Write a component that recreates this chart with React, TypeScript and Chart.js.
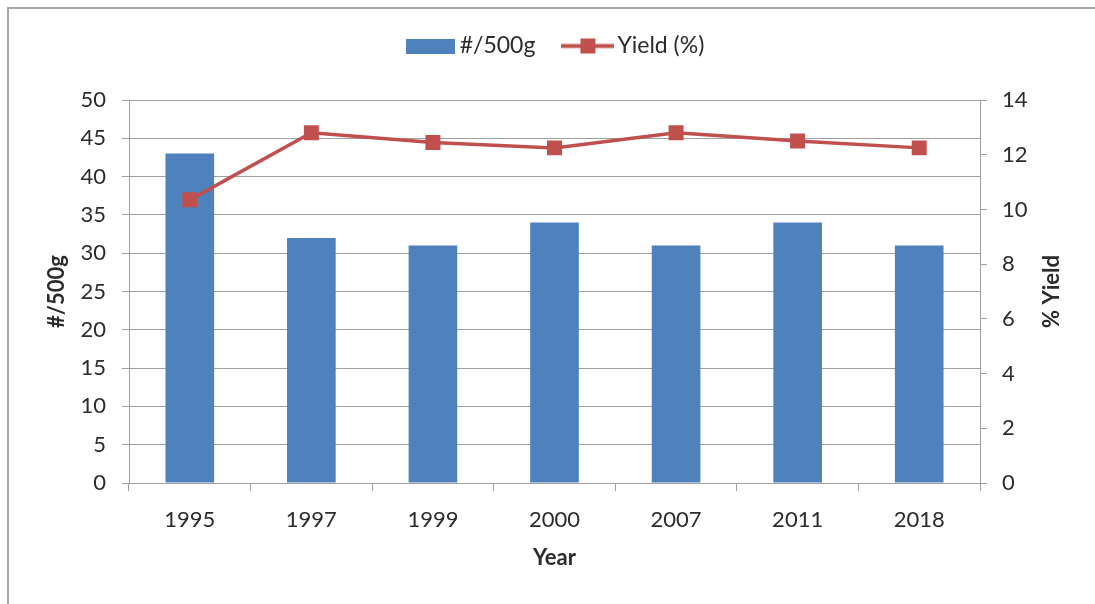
import React, { useEffect, useRef } from "react";
import { Chart, registerables } from "chart.js";

Chart.register(...registerables);

// Sample years on the category axis
const years = ["1995", "1997", "1999", "2000", "2007", "2011", "2018"];
// Count per 500 g (left axis, bars)
const countPer500g = [43, 32, 31, 34, 31, 34, 31];
// Yield in percent (right axis, line)
const yieldPct = [10.35, 12.8, 12.45, 12.25, 12.8, 12.5, 12.25];

const leftTicks = { min: 0, max: 50, step: 5 };
const rightTicks = { min: 0, max: 14, step: 2 };

const BLUE = "#4F81BD";
const RED = "#C0504D";
const GRID = "#a0a0a0";
const TEXT = "#2b2b2b";
const FONT = "Lato";

function makeBarSwatch(): HTMLCanvasElement {
  const c = document.createElement("canvas");
  c.width = 49;
  c.height = 15;
  const ctx = c.getContext("2d")!;
  ctx.fillStyle = BLUE;
  ctx.fillRect(0, 0, 49, 15);
  return c;
}

function makeLineSwatch(): HTMLCanvasElement {
  const c = document.createElement("canvas");
  c.width = 53;
  c.height = 17;
  const ctx = c.getContext("2d")!;
  ctx.fillStyle = RED;
  ctx.fillRect(0, 6.5, 53, 4);
  ctx.fillRect(19, 1, 15, 15);
  return c;
}

// Extra space between the legend row and the plot area
const legendGapPlugin = {
  id: "legendGap",
  beforeLayout(chart: any) {
    const legend = chart.legend;
    if (!legend || legend._gapPatched) return;
    const fit = legend.fit.bind(legend);
    legend.fit = function () {
      fit();
      this.height += 32.5;
    };
    legend._gapPatched = true;
  },
};

// Right-hand axis title, read bottom to top like the left one
const rightTitlePlugin = {
  id: "rightTitle",
  afterDraw(chart: any) {
    const s = chart.scales.y1;
    const area = chart.chartArea;
    const ctx = chart.ctx;
    ctx.save();
    ctx.translate(s.right - 43, (area.top + area.bottom) / 2);
    ctx.rotate(-Math.PI / 2);
    ctx.fillStyle = TEXT;
    ctx.font = `bold 22px ${FONT}`;
    ctx.textAlign = "center";
    ctx.textBaseline = "middle";
    ctx.fillText("% Yield", 0, 0);
    ctx.restore();
  },
};

export default function App() {
  const canvasRef = useRef<HTMLCanvasElement | null>(null);

  useEffect(() => {
    if (!canvasRef.current) return;
    const barSwatch = makeBarSwatch();
    const lineSwatch = makeLineSwatch();

    const chart = new Chart(canvasRef.current, {
      type: "bar",
      data: {
        labels: years,
        datasets: [
          {
            type: "bar",
            label: "#/500g",
            data: countPer500g,
            backgroundColor: BLUE,
            borderWidth: 0,
            yAxisID: "y",
            order: 1,
            categoryPercentage: 1,
            barPercentage: 0.4,
          },
          {
            type: "line",
            label: "Yield (%)",
            data: yieldPct,
            borderColor: RED,
            backgroundColor: RED,
            borderWidth: 3.5,
            pointStyle: "rect",
            pointRadius: 10.6,
            pointBorderWidth: 0,
            pointBackgroundColor: RED,
            tension: 0,
            yAxisID: "y1",
            order: 0,
          },
        ],
      },
      options: {
        responsive: false,
        animation: false,
        layout: { padding: { left: 21.5, right: 0, top: 0, bottom: 0 } },
        font: { family: FONT },
        plugins: {
          tooltip: { enabled: false },
          legend: {
            display: true,
            position: "top",
            labels: {
              usePointStyle: true,
              pointStyleWidth: 36,
              padding: 34.5,
              color: TEXT,
              font: { family: FONT, size: 23 },
              generateLabels: () => [
                {
                  text: "#/500g",
                  pointStyle: barSwatch,
                  fontColor: TEXT,
                  lineWidth: 0,
                  datasetIndex: 0,
                  hidden: false,
                },
                {
                  text: "Yield (%)",
                  pointStyle: lineSwatch,
                  fontColor: TEXT,
                  lineWidth: 0,
                  datasetIndex: 1,
                  hidden: false,
                },
              ] as any,
            },
          },
        },
        scales: {
          x: {
            type: "category",
            offset: true,
            afterFit: (s: any) => {
              s.height = 121;
            },
            grid: {
              display: true,
              offset: true,
              drawOnChartArea: false,
              drawTicks: true,
              tickLength: 8,
              color: GRID,
            },
            border: { display: true, color: GRID },
            ticks: {
              color: TEXT,
              padding: 16,
              font: { family: FONT, size: 22 },
              maxRotation: 0,
            },
            title: {
              display: true,
              text: "Year",
              color: TEXT,
              font: { family: FONT, size: 22, weight: "bold" },
              padding: { top: 0, bottom: 33 },
            },
          },
          y: {
            type: "linear",
            position: "left",
            min: leftTicks.min,
            max: leftTicks.max,
            afterFit: (s: any) => {
              s.width = 107.5;
            },
            grid: {
              color: GRID,
              drawTicks: true,
              tickLength: 7,
            },
            border: { display: true, color: GRID },
            ticks: {
              stepSize: leftTicks.step,
              color: TEXT,
              padding: 16,
              font: { family: FONT, size: 22 },
            },
            title: {
              display: true,
              text: "#/500g",
              color: TEXT,
              font: { family: FONT, size: 22, weight: "bold" },
              padding: { top: 22.3, bottom: 0 },
            },
          },
          y1: {
            type: "linear",
            position: "right",
            min: rightTicks.min,
            max: rightTicks.max,
            afterFit: (s: any) => {
              s.width = 115;
            },
            grid: {
              color: GRID,
              drawOnChartArea: false,
              drawTicks: true,
              tickLength: 7,
            },
            border: { display: true, color: GRID },
            ticks: {
              stepSize: rightTicks.step,
              color: TEXT,
              padding: 15,
              font: { family: FONT, size: 22 },
            },
          },
        },
      },
      plugins: [legendGapPlugin, rightTitlePlugin],
    });

    return () => chart.destroy();
  }, []);

  return (
    <div
      style={{
        position: "fixed",
        left: 0,
        top: 0,
        width: 1095,
        height: 604,
        overflow: "hidden",
        background: "#ffffff",
      }}
    >
      <div
        style={{
          position: "absolute",
          left: 7,
          top: 7,
          width: 1200,
          height: 700,
          border: "2px solid #a6a6a6",
          boxSizing: "border-box",
        }}
      />
      <canvas
        ref={canvasRef}
        width={1095}
        height={604}
        style={{ position: "absolute", left: 0, top: 0, width: 1095, height: 604 }}
      />
    </div>
  );
}
